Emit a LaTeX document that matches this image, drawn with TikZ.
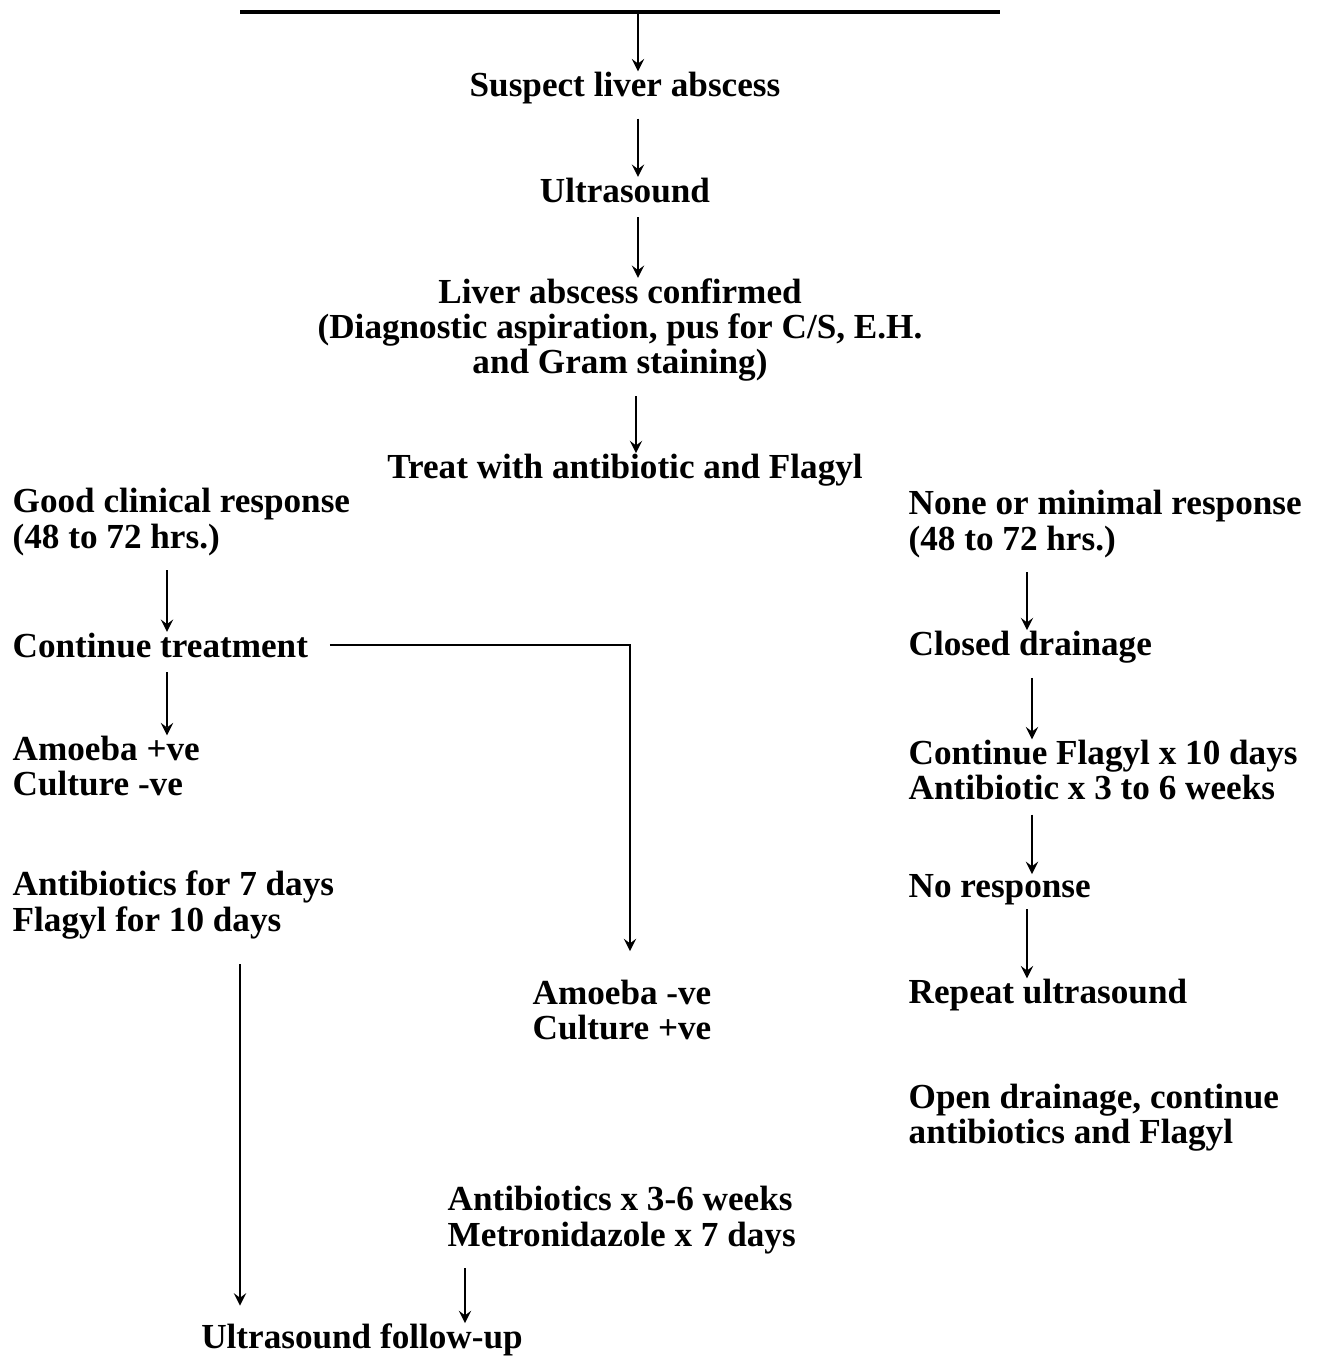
\documentclass[tikz,border=0pt]{standalone}
\usepackage{fontspec}
\setmainfont{Liberation Serif}
\usetikzlibrary{arrows,positioning}
\tikzstyle{txt}=
[
	inner sep=0pt
	,font=\bfseries\fontsize{10}{10}\selectfont
	,align=center
]
\tikzstyle{txtl}=
[
	txt
	,anchor=west
	,align=left
]
\tikzstyle{arrow} = [line width=0.55pt,->,>=stealth,shorten <=4pt]
\tikzstyle{thickline} = [line width=1.1pt,-]

\begin{document}
\begin{tikzpicture}[x=0.01cm,y=-0.01cm]
\useasboundingbox (0,0) rectangle (1317,1359);
% middle column
\coordinate(tl) at (240,12);
\coordinate(tr) at (1000,12);
\coordinate(tm) at (638,12);
\node(suspect)[txt] at (625,88){Suspect liver abscess};
\node(us)[txt] at (625,190){Ultrasound};
\node(conf)[txt] at (620,330){Liver abscess confirmed\\(Diagnostic aspiration, pus for C/S, E.H.\\and Gram staining)};
\node(treat)[txt] at (625,470){Treat with antibiotic and Flagyl};
% left branch
\node(good)[txtl] at (12,522){Good clinical response\\(48 to 72 hrs.)};
\node(cont)[txtl] at (12,645){Continue treatment};
\node(ampos)[txtl] at (12,766){Amoeba +ve\\Culture -ve};
\node(ab7)[txtl] at (12,905){Antibiotics for 7 days\\Flagyl for 10 days};
\node(amneg)[txt] at (622,1010){Amoeba -ve\\Culture +ve};
\node(ab36)[txtl] at (447,1220){Antibiotics x 3-6 weeks\\Metronidazole x 7 days};
\node(ufu)[txt] at (362,1340){Ultrasound follow-up};
% right branch
\node(none)[txtl] at (908,524){None or minimal response\\(48 to 72 hrs.)};
\node(closed)[txtl] at (908,647){Closed drainage};
\node(contf)[txtl] at (908,770){Continue Flagyl x 10 days\\Antibiotic x 3 to 6 weeks};
\node(noresp)[txtl] at (908,890){No response};
\node(repeat)[txtl] at (908,995){Repeat ultrasound};
\node(open)[txtl] at (908,1118){Open drainage, continue\\antibiotics and Flagyl};

\coordinate(c1) at (638,0);
\coordinate(c2) at (636,0);
\coordinate(lc) at (167,0);
\coordinate(lc2) at (240,0);
\coordinate(mc) at (630,0);
\coordinate(bc) at (465,0);
\coordinate(rc1) at (1027,0);
\coordinate(rc2) at (1032,0);

\draw[thickline](tl)--(tr);
\draw[arrow,shorten <=0pt](tm)--(suspect.north -| tm);
\draw[arrow](suspect.south -| c1)--(us.north -| c1);
\draw[arrow](us.south -| c1)--(conf.north -| c1);
\draw[arrow](conf.south -| c2)--(treat.north -| c2);

\draw[arrow](good.south -| lc)--(cont.north -| lc);
\draw[arrow](cont.south -| lc)--(ampos.north -| lc);
\draw[arrow,shorten <=6pt,shorten >=8pt](cont.east)-|(amneg.north -| mc);
\draw[arrow,shorten <=7pt,shorten >=5pt](ab7.south -| lc2)--(ufu.north -| lc2);
\draw[arrow](ab36.south -| bc)--(ufu.north -| bc);

\draw[arrow](none.south -| rc1)--(closed.north -| rc1);
\draw[arrow](closed.south -| rc2)--(contf.north -| rc2);
\draw[arrow](contf.south -| rc2)--(noresp.north -| rc2);
\draw[arrow,shorten <=1pt](noresp.south -| rc1)--(repeat.north -| rc1);
\end{tikzpicture}
\end{document}
